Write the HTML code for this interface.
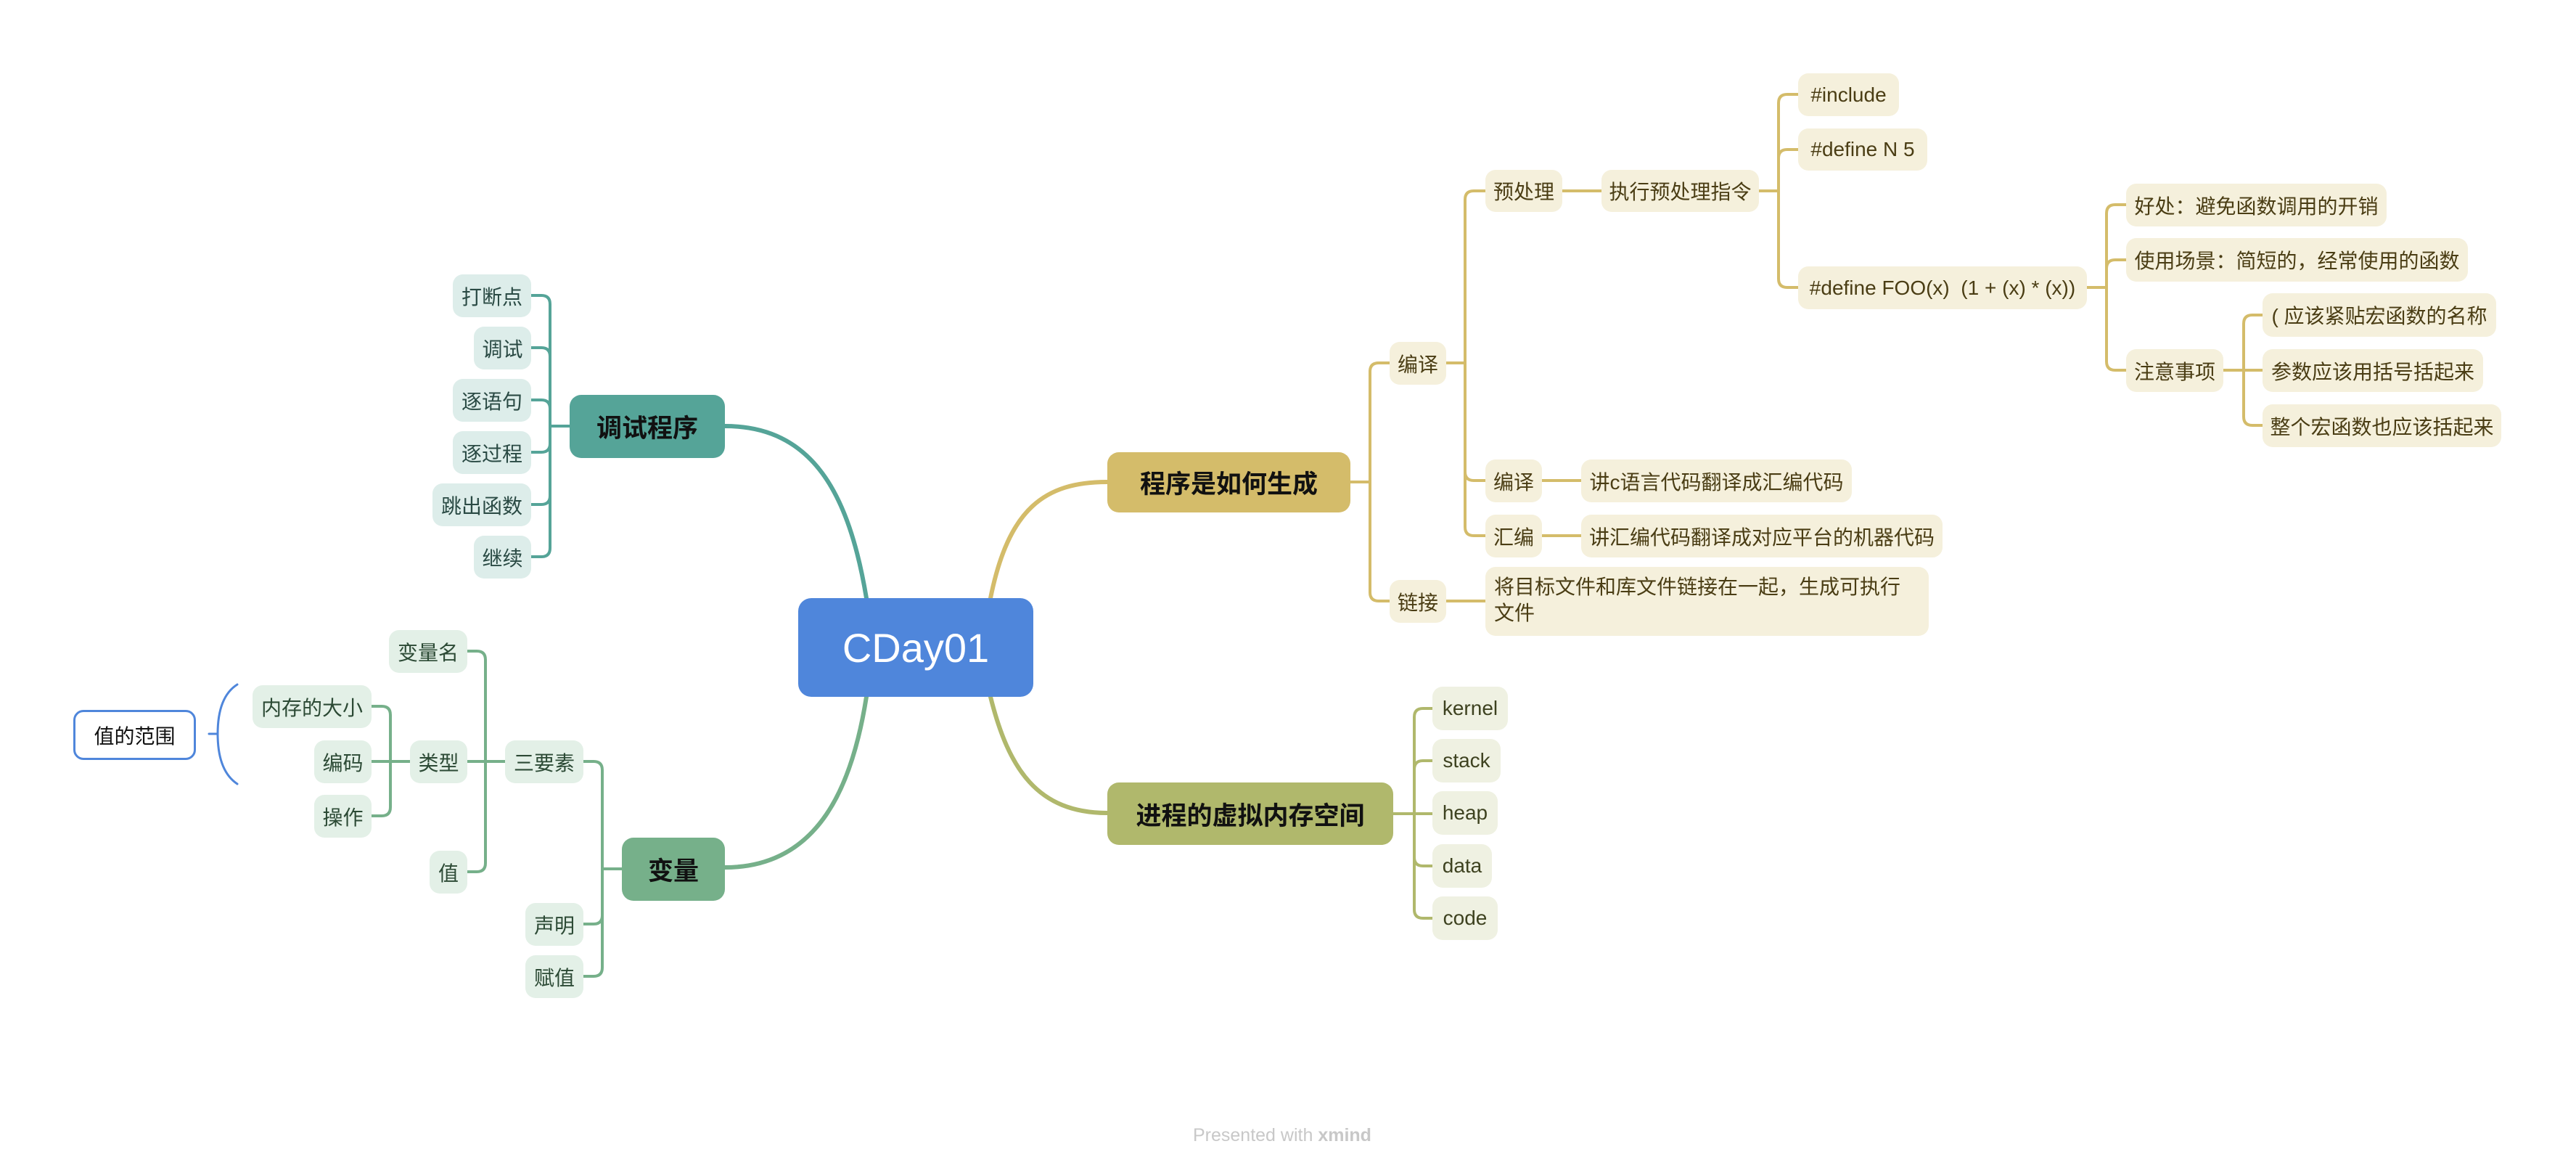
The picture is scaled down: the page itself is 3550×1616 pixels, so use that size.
<!DOCTYPE html>
<html><head><meta charset="utf-8"><style>
body{margin:0;width:3550px;height:1616px;background:#fff;position:relative;overflow:hidden;font-family:"Liberation Sans","Noto Sans CJK SC",sans-serif}
.n{position:absolute;box-sizing:border-box;border-radius:14px;display:flex;align-items:center;justify-content:center;font-size:28px;white-space:nowrap}
.g{background:#F5F0DC;color:#4A3D14}
.o{background:#EFF1E2;color:#3E4220}
.t{background:#DDEDEA;color:#2A4A44}
.e{background:#E3F0E7;color:#2C4A35}
.m{font-size:35px;font-weight:bold;color:#111;border-radius:16px}
svg{position:absolute;left:0;top:0}
</style></head><body>
<svg width="3550" height="1616" fill="none" stroke-linecap="round">
<g stroke-width="6">
<path d="M1194,824 C1170,680 1120,587 999,587" stroke="#55A498"/>
<path d="M1365,824 C1390,700 1440,664 1526,664" stroke="#D4BC6A"/>
<path d="M1365,960 C1390,1060 1430,1120 1526,1120" stroke="#B0B86C"/>
<path d="M1194,960 C1175,1080 1130,1195 999,1195" stroke="#76B08A"/>
</g>
<g stroke-width="4" stroke="#D4BC6A">
<path d="M1861,664 H1888 M1888,664 V512 Q1888,500 1900,500 H1915 M1888,664 V816 Q1888,828 1900,828 H1915"/>
<path d="M1993,500 H2019 M2019,500 V275 Q2019,263 2031,263 H2047 M2019,500 V650 Q2019,662 2031,662 H2047 M2019,500 V726 Q2019,738 2031,738 H2047"/>
<path d="M2153,263 H2207 M2424,263 H2451 M2451,263 V142 Q2451,130 2463,130 H2478 M2451,263 V218 Q2451,206 2463,206 H2478 M2451,263 V384 Q2451,396 2463,396 H2478"/>
<path d="M2876,396 H2903 M2903,396 V294 Q2903,282 2915,282 H2930 M2903,396 V370 Q2903,358 2915,358 H2930 M2903,396 V498 Q2903,510 2915,510 H2930"/>
<path d="M3064,510 H3118 M3092,510 V446 Q3092,434 3104,434 H3118 M3092,510 V574 Q3092,586 3104,586 H3118"/>
<path d="M2125,662 H2179 M2125,738 H2179 M1993,828 H2047"/>
</g>
<g stroke-width="4" stroke="#B0B86C">
<path d="M1920,1121 H1974 M1949,1121 V988 Q1949,976 1961,976 H1974 M1949,1121 V1060 Q1949,1048 1961,1048 H1974 M1949,1121 V1181 Q1949,1193 1961,1193 H1974 M1949,1121 V1253 Q1949,1265 1961,1265 H1974"/>
</g>
<g stroke-width="4" stroke="#55A498">
<path d="M785,587 H758 M758,587 V419 Q758,407 746,407 H732 M758,587 V491 Q758,479 746,479 H732 M758,587 V563 Q758,551 746,551 H732 M758,587 V611 Q758,623 746,623 H732 M758,587 V683 Q758,695 746,695 H732 M758,587 V755 Q758,767 746,767 H732"/>
</g>
<g stroke-width="4" stroke="#76B08A">
<path d="M857,1197 H830 M830,1197 V1061 Q830,1049 818,1049 H804 M830,1197 V1261 Q830,1273 818,1273 H804 M830,1197 V1333 Q830,1345 818,1345 H804"/>
<path d="M696,1049 H644 M669,1049 V909 Q669,897 657,897 H644 M669,1049 V1189 Q669,1201 657,1201 H644"/>
<path d="M565,1049 H512 M538,1049 V985 Q538,973 526,973 H512 M538,1049 V1112 Q538,1124 526,1124 H512"/>
</g>
<path d="M327,943 Q300,960 300,1011 Q300,1062 327,1080 M288,1011 H300" stroke="#4F86DB" stroke-width="3"/>
</svg>

<div class="n" style="left:1100px;top:824px;width:324px;height:136px;background:#4F86DB;color:#fff;font-size:56px;border-radius:18px">CDay01</div>

<div class="n m" style="left:1526px;top:623px;width:335px;height:83px;background:#D4BC6A">程序是如何生成</div>
<div class="n m" style="left:1526px;top:1078px;width:394px;height:86px;background:#B0B86C">进程的虚拟内存空间</div>
<div class="n m" style="left:785px;top:544px;width:214px;height:87px;background:#55A498">调试程序</div>
<div class="n m" style="left:857px;top:1154px;width:142px;height:87px;background:#76B08A">变量</div>

<div class="n g" style="left:1915px;top:471px;width:78px;height:59px">编译</div>
<div class="n g" style="left:1915px;top:799px;width:78px;height:59px">链接</div>
<div class="n g" style="left:2047px;top:234px;width:106px;height:58px">预处理</div>
<div class="n g" style="left:2207px;top:234px;width:217px;height:58px">执行预处理指令</div>
<div class="n g" style="left:2478px;top:101px;width:139px;height:59px">#include</div>
<div class="n g" style="left:2478px;top:177px;width:178px;height:58px">#define N 5</div>
<div class="n g" style="left:2478px;top:367px;width:398px;height:59px">#define FOO(x) &nbsp;(1 + (x) * (x))</div>
<div class="n g" style="left:2930px;top:253px;width:359px;height:59px">好处：避免函数调用的开销</div>
<div class="n g" style="left:2930px;top:328px;width:471px;height:60px">使用场景：简短的，经常使用的函数</div>
<div class="n g" style="left:2930px;top:481px;width:134px;height:59px">注意事项</div>
<div class="n g" style="left:3118px;top:404px;width:322px;height:60px">( 应该紧贴宏函数的名称</div>
<div class="n g" style="left:3118px;top:481px;width:304px;height:59px">参数应该用括号括起来</div>
<div class="n g" style="left:3118px;top:557px;width:329px;height:59px">整个宏函数也应该括起来</div>
<div class="n g" style="left:2047px;top:633px;width:78px;height:59px">编译</div>
<div class="n g" style="left:2179px;top:633px;width:373px;height:59px">讲c语言代码翻译成汇编代码</div>
<div class="n g" style="left:2047px;top:709px;width:78px;height:59px">汇编</div>
<div class="n g" style="left:2179px;top:709px;width:498px;height:59px">讲汇编代码翻译成对应平台的机器代码</div>
<div class="n g" style="left:2047px;top:781px;width:611px;height:95px;justify-content:flex-start;align-items:flex-start;padding:10px 12px;line-height:36px;white-space:normal">将目标文件和库文件链接在一起，生成可执行文件</div>

<div class="n o" style="left:1974px;top:946px;width:104px;height:60px">kernel</div>
<div class="n o" style="left:1974px;top:1018px;width:94px;height:60px">stack</div>
<div class="n o" style="left:1974px;top:1090px;width:90px;height:60px">heap</div>
<div class="n o" style="left:1974px;top:1163px;width:82px;height:60px">data</div>
<div class="n o" style="left:1974px;top:1235px;width:90px;height:60px">code</div>

<div class="n t" style="left:624px;top:378px;width:108px;height:59px">打断点</div>
<div class="n t" style="left:653px;top:450px;width:79px;height:59px">调试</div>
<div class="n t" style="left:624px;top:522px;width:108px;height:59px">逐语句</div>
<div class="n t" style="left:624px;top:594px;width:108px;height:59px">逐过程</div>
<div class="n t" style="left:596px;top:666px;width:136px;height:59px">跳出函数</div>
<div class="n t" style="left:653px;top:738px;width:79px;height:59px">继续</div>

<div class="n e" style="left:536px;top:868px;width:108px;height:59px">变量名</div>
<div class="n e" style="left:348px;top:944px;width:164px;height:59px">内存的大小</div>
<div class="n e" style="left:433px;top:1020px;width:79px;height:59px">编码</div>
<div class="n e" style="left:433px;top:1095px;width:79px;height:59px">操作</div>
<div class="n e" style="left:565px;top:1020px;width:79px;height:59px">类型</div>
<div class="n e" style="left:696px;top:1020px;width:108px;height:59px">三要素</div>
<div class="n e" style="left:592px;top:1172px;width:52px;height:59px">值</div>
<div class="n e" style="left:724px;top:1244px;width:80px;height:59px">声明</div>
<div class="n e" style="left:724px;top:1316px;width:80px;height:59px">赋值</div>

<div class="n" style="left:101px;top:978px;width:169px;height:69px;border:3px solid #4F86DB;background:#fff;color:#111;font-size:28px">值的范围</div>

<div style="position:absolute;left:1644px;top:1550px;font-size:25px;color:#c8c8c8">Presented with <b>xmind</b></div>
</body></html>
